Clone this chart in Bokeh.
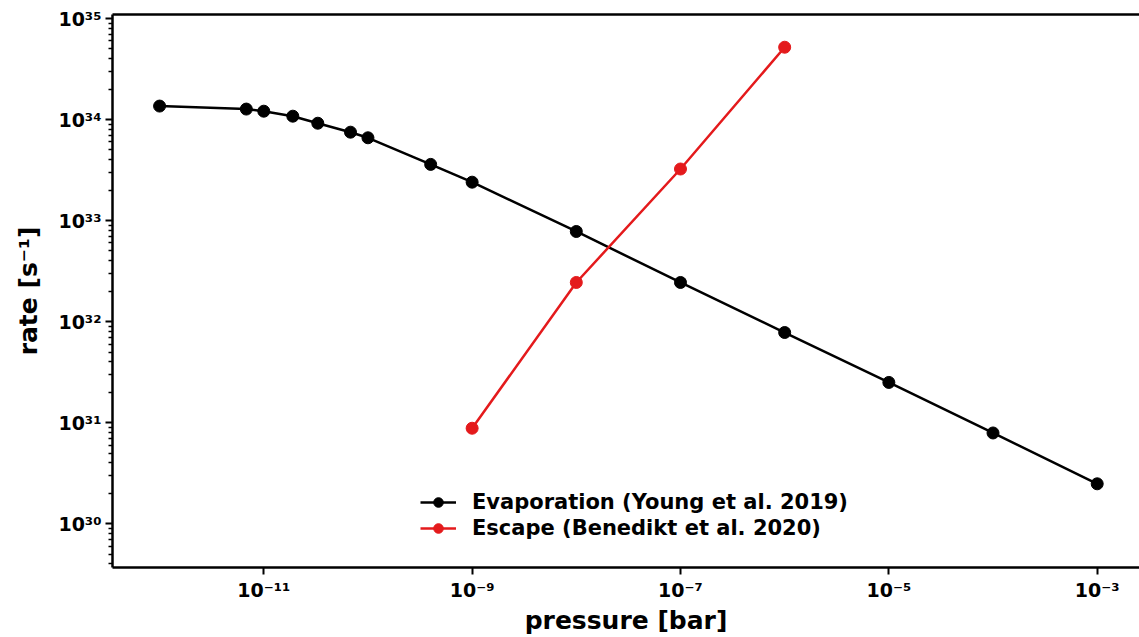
from bokeh.plotting import figure
from bokeh.models import FixedTicker, CustomJSTickFormatter, LinearAxis, Legend, LegendItem, Range1d
from bokeh.embed import file_html
from bokeh.resources import INLINE

# Data
evap_p = [1e-12, 6.8e-12, 1e-11, 1.9e-11, 3.3e-11, 6.8e-11, 1e-10, 4e-10, 1e-9,
          1e-8, 1e-7, 1e-6, 1e-5, 1e-4, 1e-3]
evap_rate = [1.36e34, 1.27e34, 1.21e34, 1.08e34, 9.2e33, 7.5e33, 6.6e33, 3.6e33, 2.4e33,
             7.8e32, 2.44e32, 7.8e31, 2.5e31, 7.9e30, 2.48e30]
esc_p = [1e-9, 1e-8, 1e-7, 1e-6]
esc_rate = [8.8e30, 2.44e32, 3.24e33, 5.2e34]

x_ticks = [1e-11, 1e-9, 1e-7, 1e-5, 1e-3]
y_ticks = [1e30, 1e31, 1e32, 1e33, 1e34, 1e35]
y_minor = [k * 10.0 ** e for e in range(29, 36) for k in range(2, 10)]

FONT = "DejaVu Sans"

p = figure(width=1139, height=637, x_axis_type="log", y_axis_type="log",
           x_range=Range1d(10 ** -12.452, 10 ** -2.594),
           y_range=Range1d(10 ** 29.566, 10 ** 35.04),
           output_backend="svg", toolbar_location=None,
           min_border_left=112, min_border_top=14, min_border_right=0, min_border_bottom=66)
p.outline_line_color = None
p.grid.visible = False
p.background_fill_color = "white"

fmt = CustomJSTickFormatter(code="""
const sup = {'0':'\u2070','1':'\u00b9','2':'\u00b2','3':'\u00b3','4':'\u2074','5':'\u2075',
             '6':'\u2076','7':'\u2077','8':'\u2078','9':'\u2079','-':'\u207b'};
const e = Math.round(Math.log10(tick));
return '10' + String(e).split('').map(c => sup[c]).join('');
""")

for ax in (p.xaxis[0], p.yaxis[0]):
    ax.formatter = fmt
    ax.axis_line_width = 2.5
    ax.axis_line_color = "black"
    ax.major_tick_line_color = "black"
    ax.minor_tick_line_color = "black"
    ax.major_tick_line_width = 2
    ax.minor_tick_line_width = 1.5
    ax.major_tick_out = 7
    ax.major_tick_in = 0
    ax.minor_tick_out = 4
    ax.minor_tick_in = 0
    ax.major_label_text_font = FONT
    ax.major_label_text_font_style = "bold"
    ax.major_label_text_font_size = "19px"
    ax.major_label_text_color = "black"
    ax.axis_label_text_font = FONT
    ax.axis_label_text_font_style = "bold"
    ax.axis_label_text_font_size = "25px"
    ax.axis_label_text_color = "black"

p.xaxis[0].ticker = FixedTicker(ticks=x_ticks, minor_ticks=[])
p.yaxis[0].ticker = FixedTicker(ticks=y_ticks, minor_ticks=y_minor)
p.xaxis[0].axis_label = "pressure [bar]"
p.yaxis[0].axis_label = "rate [s\u207b\u00b9]"
p.xaxis[0].axis_label_standoff = 2
p.yaxis[0].axis_label_standoff = 12
p.xaxis[0].major_label_standoff = 4
p.yaxis[0].major_label_standoff = 4

top = LinearAxis(ticker=FixedTicker(ticks=[]), major_label_text_font_size="0px",
                 axis_line_width=2.5, axis_line_color="black",
                 major_tick_line_color=None, minor_tick_line_color=None)
p.add_layout(top, "above")

BLACK = "black"
RED = "#e41a1c"
l1 = p.line(evap_p, evap_rate, line_color=BLACK, line_width=2.5)
c1 = p.scatter(evap_p, evap_rate, size=12, fill_color=BLACK, line_color=BLACK)
l2 = p.line(esc_p, esc_rate, line_color=RED, line_width=2.5)
c2 = p.scatter(esc_p, esc_rate, size=12, fill_color=RED, line_color=RED)

legend = Legend(items=[LegendItem(label="Evaporation (Young et al. 2019)", renderers=[l1, c1]),
                       LegendItem(label="Escape (Benedikt et al. 2020)", renderers=[l2, c2])],
                location=(308, 27), border_line_color=None, background_fill_alpha=0,
                label_text_font=FONT, label_text_font_style="bold", label_text_font_size="21px",
                label_text_color="black", glyph_width=36, glyph_height=24,
                label_standoff=16, spacing=2, padding=6)
p.add_layout(legend, "center")

open("out.html", "w").write(file_html(p, INLINE))
